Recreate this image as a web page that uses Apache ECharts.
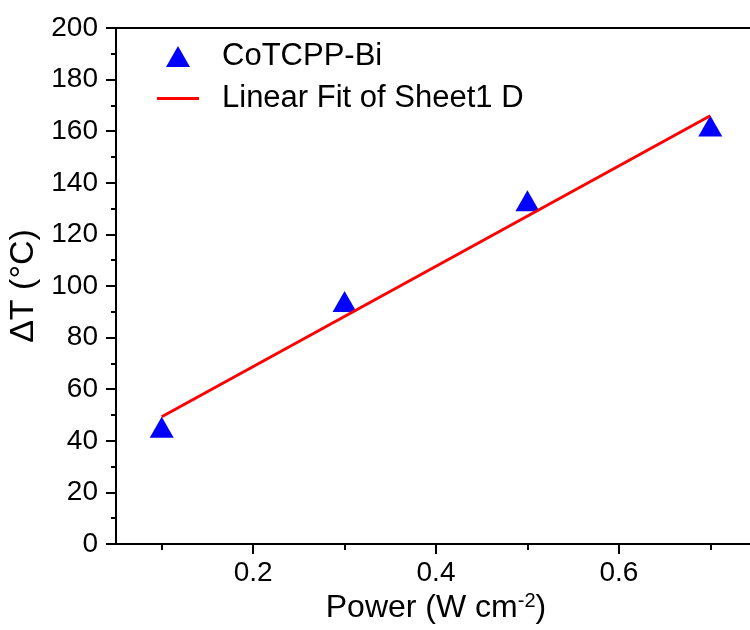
<!DOCTYPE html>
<html>
<head>
<meta charset="utf-8">
<script src="https://cdn.jsdelivr.net/npm/echarts@6/dist/echarts.min.js"></script>
<style>html,body{margin:0;padding:0;background:#fff;}#c{width:750px;height:630px;}</style>
</head>
<body>
<div id="c"></div>
<script>
// Data
const powerX = [0.1, 0.3, 0.5, 0.7];
const deltaT = [45.3, 94.0, 133.0, 162.0];
const fitX = [0.1, 0.7];
const fitY = [49.3, 166.0];
const xMajorTicks = [0.2, 0.4, 0.6];
const xMinorTicks = [0.1, 0.3, 0.5, 0.7];
const scatterName = 'CoTCPP-Bi';
const fitName = 'Linear Fit of Sheet1 D';

const FONT = '"Liberation Sans", Arial, sans-serif';
const chart = echarts.init(document.getElementById('c'), null, {renderer: 'canvas'});

const xBase = {
  type: 'value', min: 0.05, max: 0.75, gridIndex: 0,
  splitLine: {show: false}
};

chart.setOption({
  animation: false,
  backgroundColor: '#fff',
  grid: {left: 116, top: 28, width: 640, height: 516, outerBoundsMode: 'none', containLabel: false, show: false},
  legend: [
    {
      data: [{name: scatterName, icon: 'triangle'}],
      left: 166, top: 41, padding: 0, itemWidth: 24, itemHeight: 21,
      textStyle: {fontFamily: FONT, fontSize: 31, color: '#000', padding: [0, 0, 0, 27]}
    },
    {
      data: [{name: fitName, icon: 'rect'}],
      left: 157, top: 83, padding: 0, itemWidth: 42, itemHeight: 3,
      textStyle: {fontFamily: FONT, fontSize: 31, color: '#000', padding: [0, 0, 0, 18]}
    }
  ],
  xAxis: [
    Object.assign({}, xBase, {
      position: 'bottom',
      name: 'Power (W cm{sup|-2})',
      nameLocation: 'middle', nameGap: 42,
      nameTextStyle: {fontFamily: FONT, fontSize: 32, color: '#000',
        rich: {sup: {fontFamily: FONT, fontSize: 20, color: '#000', verticalAlign: 'top', padding: [0, 0, 12, 0]}}},
      axisLine: {show: true, onZero: false, lineStyle: {color: '#000', width: 2}},
      axisTick: {show: true, length: 10, lineStyle: {color: '#000', width: 2}, customValues: xMajorTicks},
      axisLabel: {show: true, margin: 15, fontFamily: FONT, fontSize: 28, color: '#000', customValues: xMajorTicks,
        formatter: v => v.toFixed(1)},
      minorTick: {show: false}
    }),
    Object.assign({}, xBase, {
      position: 'bottom',
      axisLine: {show: false},
      axisTick: {show: true, length: 6, lineStyle: {color: '#000', width: 2}, customValues: xMinorTicks},
      axisLabel: {show: false}
    }),
    Object.assign({}, xBase, {
      position: 'top',
      axisLine: {show: true, onZero: false, lineStyle: {color: '#000', width: 2}},
      axisTick: {show: false},
      axisLabel: {show: false}
    })
  ],
  yAxis: {
    type: 'value', min: 0, max: 200, interval: 20,
    name: 'ΔT (°C)', nameLocation: 'middle', nameGap: 58,
    nameTextStyle: {fontFamily: FONT, fontSize: 34, color: '#000'},
    axisLine: {show: true, onZero: false, lineStyle: {color: '#000', width: 2}},
    axisTick: {show: true, length: 10, lineStyle: {color: '#000', width: 2}},
    minorTick: {show: true, splitNumber: 2, length: 5, lineStyle: {color: '#000', width: 2}},
    axisLabel: {margin: 18, fontFamily: FONT, fontSize: 28, color: '#000'},
    splitLine: {show: false}
  },
  series: [
    {
      name: scatterName, type: 'scatter', xAxisIndex: 0,
      symbol: 'triangle', symbolSize: [24, 21],
      itemStyle: {color: '#0000ff', opacity: 1},
      data: powerX.map((x, i) => [x, deltaT[i]]),
      z: 2
    },
    {
      name: fitName, type: 'line', xAxisIndex: 0,
      symbol: 'none', lineStyle: {color: '#ff0000', width: 3},
      itemStyle: {color: '#ff0000'},
      data: fitX.map((x, i) => [x, fitY[i]]),
      z: 3
    }
  ]
});
</script>
</body>
</html>
